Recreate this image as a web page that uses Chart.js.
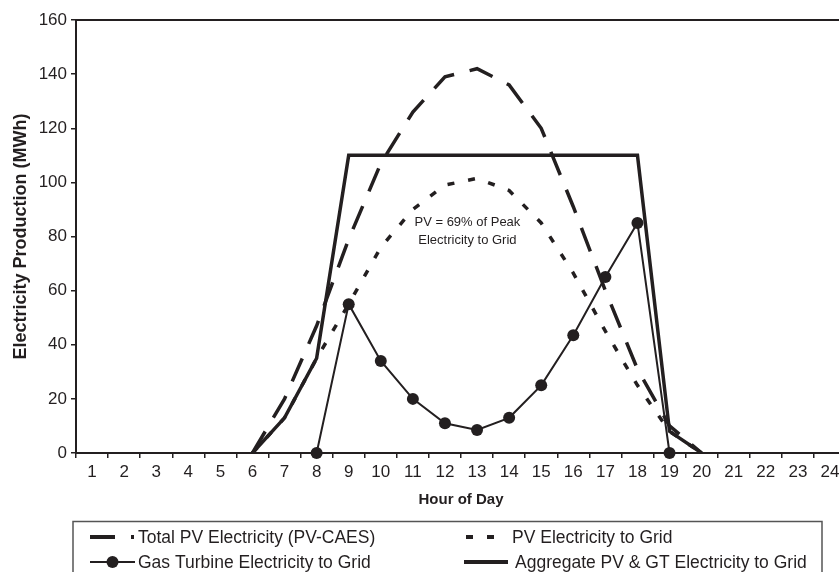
<!DOCTYPE html>
<html>
<head>
<meta charset="utf-8">
<title>Electricity Production by Hour of Day</title>
<script src="https://cdn.jsdelivr.net/npm/chart.js@4.4.0/dist/chart.umd.min.js"></script>
<style>
  html, body { margin: 0; padding: 0; background: #fff; overflow: hidden; }
  canvas { display: block; }
</style>
</head>
<body>
<canvas id="productionChart" width="852" height="572"></canvas>
<script>
const hours = ['1', '2', '3', '4', '5', '6', '7', '8', '9', '10', '11', '12',
  '13', '14', '15', '16', '17', '18', '19', '20', '21', '22', '23', '24'];

// MWh per hour, null where a series has no value
const totalPV = [null, null, null, null, null, 0, 20, 47, 79, 107, 126, 139,
  142, 136, 120, 91, 60, 31, 10, 0, null, null, null, null];
const pvToGrid = [null, null, null, null, null, 0, 13, 35, 55, 76, 90, 99,
  101.5, 97, 85, 66.5, 45, 25, 8, 0, null, null, null, null];
const gasTurbine = [null, null, null, null, null, null, null, 0, 55, 34, 20, 11,
  8.5, 13, 25, 43.5, 65, 85, 0, null, null, null, null, null];
const aggregate = [null, null, null, null, null, 0, 13, 35, 110, 110, 110, 110,
  110, 110, 110, 110, 110, 110, 8, 0, null, null, null, null];

const seriesLabels = [
  'Total PV Electricity (PV-CAES)',
  'PV Electricity to Grid',
  'Gas Turbine Electricity to Grid',
  'Aggregate PV & GT Electricity to Grid'
];
const noteLines = ['PV = 69% of Peak', 'Electricity to Grid'];

const ink = '#231f20';
const fontFamily = "'Liberation Sans', Arial, Helvetica, sans-serif";

// frame round the plot, the note and the boxed legend under the axis
const extrasPlugin = {
  id: 'extras',
  afterDraw(chart) {
    const ctx = chart.ctx;
    const area = chart.chartArea;
    const xScale = chart.scales.x;
    const yScale = chart.scales.y;

    ctx.save();
    ctx.strokeStyle = ink;
    ctx.lineWidth = 2;
    ctx.beginPath();
    ctx.moveTo(area.left, area.top);
    ctx.lineTo(area.right, area.top);
    ctx.lineTo(area.right, area.bottom);
    ctx.stroke();

    ctx.fillStyle = ink;
    ctx.font = '13px ' + fontFamily;
    ctx.textAlign = 'center';
    ctx.textBaseline = 'middle';
    const noteX = xScale.getPixelForValue(11.7);
    ctx.fillText(noteLines[0], noteX, yScale.getPixelForValue(85.1));
    ctx.fillText(noteLines[1], noteX, yScale.getPixelForValue(78.45));

    // legend
    ctx.strokeStyle = '#555';
    ctx.lineWidth = 1.5;
    ctx.strokeRect(73, 521.5, 749, 100);

    const slots = [
      { x0: 90, x1: 134, textX: 138, y: 537 },
      { x0: 466, x1: 508, textX: 512, y: 537 },
      { x0: 90, x1: 135, textX: 138, y: 562 },
      { x0: 464, x1: 508, textX: 515, y: 562 }
    ];
    ctx.font = '17.5px ' + fontFamily;
    ctx.textAlign = 'left';
    chart.data.datasets.forEach(function (ds, i) {
      const s = slots[i];
      ctx.strokeStyle = ds.borderColor;
      ctx.lineWidth = ds.borderWidth < 3 ? 2 : 4;
      ctx.setLineDash(ds.borderDash || []);
      ctx.beginPath();
      ctx.moveTo(s.x0, s.y);
      ctx.lineTo(s.x1, s.y);
      ctx.stroke();
      ctx.setLineDash([]);
      if (ds.pointRadius > 0) {
        ctx.fillStyle = ds.pointBackgroundColor;
        ctx.beginPath();
        ctx.arc((s.x0 + s.x1) / 2, s.y, ds.pointRadius, 0, Math.PI * 2);
        ctx.fill();
      }
      ctx.fillStyle = ink;
      ctx.fillText(ds.label, s.textX, s.y + 1);
    });
    ctx.restore();
  }
};

const ctx = document.getElementById('productionChart').getContext('2d');

new Chart(ctx, {
  type: 'line',
  data: {
    labels: hours,
    datasets: [{
      label: seriesLabels[0],
      data: totalPV,
      borderColor: ink,
      borderWidth: 3.5,
      borderDash: [25, 16],
      pointRadius: 0
    }, {
      label: seriesLabels[1],
      data: pvToGrid,
      borderColor: ink,
      borderWidth: 3.5,
      borderDash: [7, 14],
      pointRadius: 0
    }, {
      label: seriesLabels[2],
      data: gasTurbine,
      borderColor: ink,
      borderWidth: 2,
      pointRadius: 6,
      pointBackgroundColor: ink,
      pointBorderWidth: 0,
      clip: false
    }, {
      label: seriesLabels[3],
      data: aggregate,
      borderColor: ink,
      borderWidth: 3.5,
      pointRadius: 0
    }]
  },
  options: {
    responsive: false,
    animation: false,
    layout: {
      padding: { left: 0, right: 1, top: 20, bottom: 60 }
    },
    elements: {
      line: { tension: 0, fill: false, borderJoinStyle: 'miter' }
    },
    scales: {
      x: {
        offset: true,
        grid: { offset: true, drawOnChartArea: false, tickLength: 5, color: ink, lineWidth: 1.5 },
        border: { color: ink, width: 2 },
        ticks: {
          color: ink,
          font: { size: 17, family: fontFamily },
          padding: 4,
          maxRotation: 0,
          autoSkip: false
        },
        title: {
          display: true,
          text: 'Hour of Day',
          color: ink,
          font: { size: 15, weight: 'bold', family: fontFamily },
          padding: { top: 0, bottom: 3.5 }
        },
        afterFit: function (scale) {
          scale.height = 59;
        }
      },
      y: {
        min: 0,
        max: 160,
        grid: { drawOnChartArea: false, tickLength: 5, color: ink, lineWidth: 1.5 },
        border: { color: ink, width: 2 },
        ticks: {
          stepSize: 20,
          color: ink,
          font: { size: 17, family: fontFamily },
          padding: 4
        },
        title: {
          display: true,
          text: 'Electricity Production (MWh)',
          color: ink,
          font: { size: 18, weight: 'bold', family: fontFamily },
          padding: { top: 10.7, bottom: 0 }
        },
        afterFit: function (scale) {
          scale.width = 76;
        }
      }
    },
    plugins: {
      legend: { display: false },
      tooltip: { enabled: false }
    }
  },
  plugins: [extrasPlugin]
});
</script>
</body>
</html>
